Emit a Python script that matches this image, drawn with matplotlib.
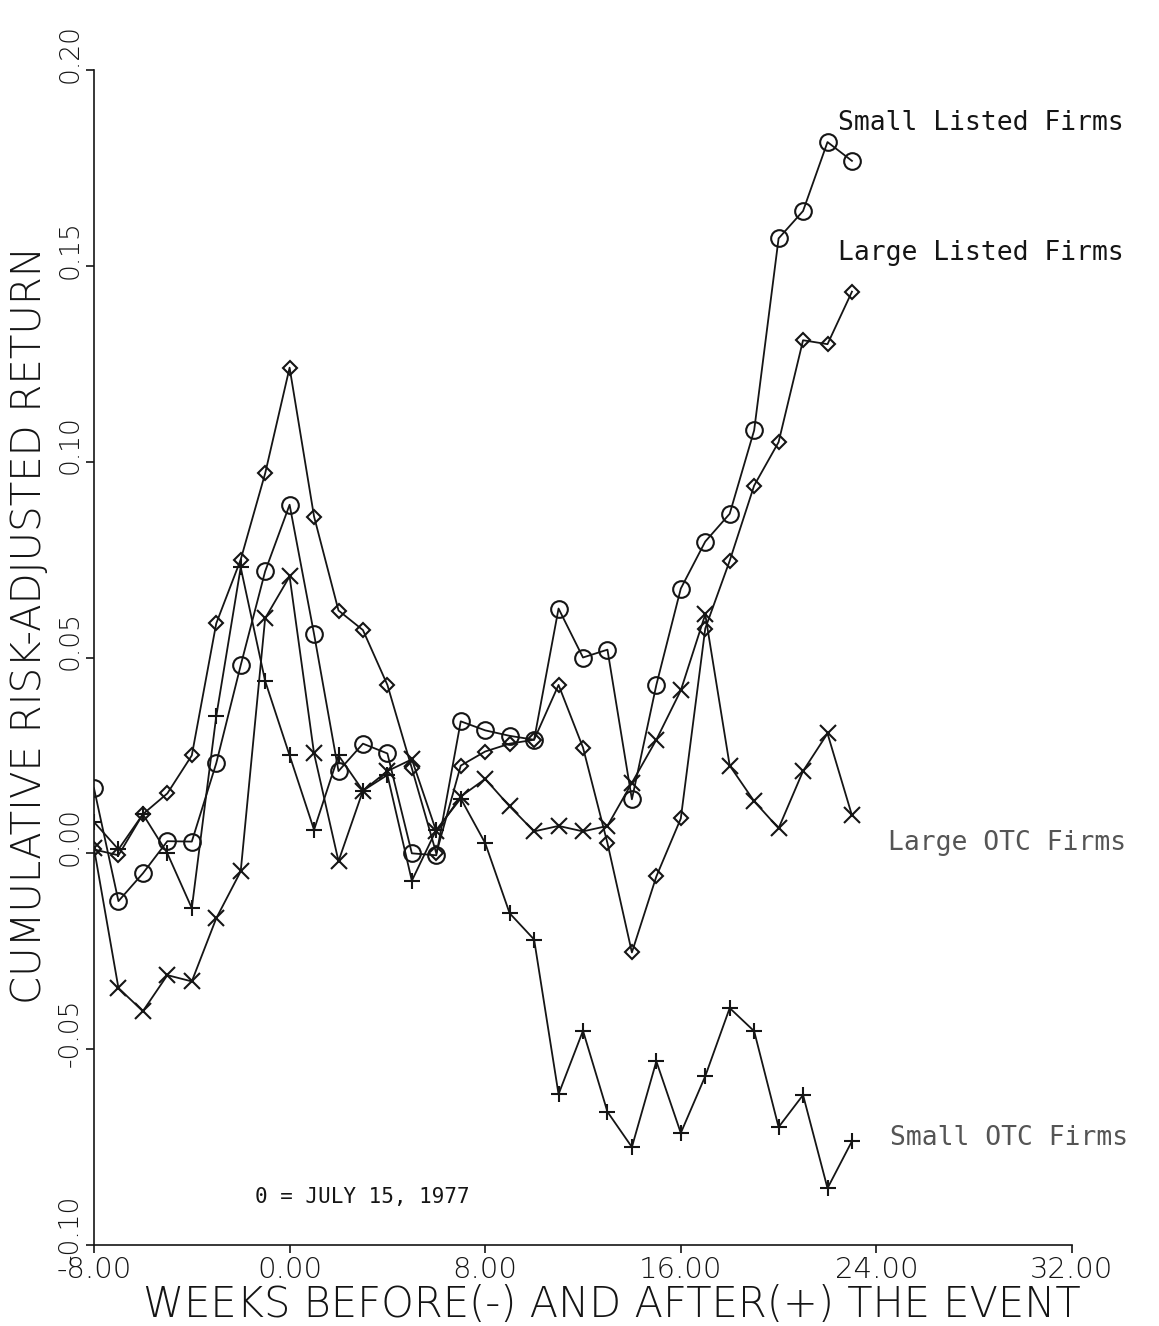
import matplotlib
matplotlib.use("Agg")
import matplotlib.pyplot as plt
import matplotlib.transforms as mtransforms
import numpy as np

weeks = list(range(-8, 24))

small_listed = [0.0166, -0.0122, -0.0051, 0.0031, 0.0030, 0.0230, 0.0480, 0.0720,
                0.0890, 0.0560, 0.0210, 0.0280, 0.0255, 0.0000, -0.0005, 0.0337,
                0.0314, 0.0300, 0.0290, 0.0625, 0.0500, 0.0520, 0.0138, 0.0430,
                0.0676, 0.0796, 0.0867, 0.1080, 0.1570, 0.1640, 0.1816, 0.1768]

large_listed = [0.0010, -0.0005, 0.0100, 0.0153, 0.0250, 0.0587, 0.0750, 0.0970,
                0.1240, 0.0860, 0.0620, 0.0570, 0.0430, 0.0217, 0.0000, 0.0224,
                0.0260, 0.0280, 0.0290, 0.0430, 0.0270, 0.0026, -0.0253, -0.0059,
                0.0089, 0.0574, 0.0747, 0.0939, 0.1050, 0.1310, 0.1300, 0.1434]

large_otc = [0.0013, -0.0344, -0.0403, -0.0311, -0.0327, -0.0166, -0.0046, 0.0600,
             0.0707, 0.0255, -0.0020, 0.0160, 0.0210, 0.0240, 0.0056, 0.0145,
             0.0190, 0.0120, 0.0056, 0.0070, 0.0056, 0.0070, 0.0180, 0.0290,
             0.0416, 0.0610, 0.0224, 0.0133, 0.0064, 0.0210, 0.0306, 0.0097]

small_otc = [0.0080, 0.0010, 0.0100, 0.0000, -0.0140, 0.0350, 0.0730, 0.0440,
             0.0250, 0.0060, 0.0250, 0.0160, 0.0200, -0.0070, 0.0060, 0.0140,
             0.0026, -0.0153, -0.0220, -0.0615, -0.0453, -0.0660, -0.0750, -0.0531,
             -0.0714, -0.0569, -0.0395, -0.0454, -0.0699, -0.0617, -0.0855, -0.0735]

series_names = ["Small Listed Firms", "Large Listed Firms", "Large OTC Firms", "Small OTC Firms"]
x_ticks = [-8, 0, 8, 16, 24, 32]
x_ticklabels = ["-8.00", "0.00", "8.00", "16.00", "24.00", "32.00"]
y_ticks = [-0.10, -0.05, 0.00, 0.05, 0.10, 0.15, 0.20]
y_ticklabels = ["-0.10", "-0.05", "0.00", "0.05", "0.10", "0.15", "0.20"]

W, H = 1159, 1326
fig = plt.figure(figsize=(W / 100, H / 100), dpi=100)
fig.patch.set_facecolor("white")
ax = fig.add_axes([94 / W, 1 - 1245 / H, 978 / W, (1245 - 70) / H])

ink = "#151515"
common = dict(color=ink, lw=1.3, mew=1.5)
ax.plot(weeks, small_listed, marker="o", ms=12, mfc="none", **common)
ax.plot(weeks, large_listed, marker="D", ms=7.5, mfc="none", **common)
ax.plot(weeks, large_otc, marker="x", ms=12, **common)
ax.plot(weeks, small_otc, marker="+", ms=12, **common)

ax.set_xlim(-8, 32)
ax.set_ylim(-0.10, 0.20)
for s in ["top", "right"]:
    ax.spines[s].set_visible(False)
for s in ["left", "bottom"]:
    ax.spines[s].set_linewidth(1.2)
    ax.spines[s].set_color(ink)

ax.set_xticks(x_ticks)
ax.set_xticklabels(x_ticklabels, fontsize=21, color=ink, fontweight="light")
ax.set_yticks(y_ticks)
ax.set_yticklabels(y_ticklabels, fontsize=19, color=ink, rotation=90,
                   va="center", fontweight="light")
ax.tick_params(axis="both", direction="out", length=6, width=1.2, color=ink)
ax.tick_params(axis="x", pad=2)
ax.tick_params(axis="y", pad=2)
off = mtransforms.ScaledTranslation(0, 12 / 72, fig.dpi_scale_trans)
for lab in ax.get_yticklabels():
    lab.set_transform(lab.get_transform() + off)

fig.text(30 / W, 1 - 625 / H, "CUMULATIVE RISK-ADJUSTED RETURN", rotation=90,
         ha="center", va="center", fontsize=29, color=ink, fontweight="light")
fig.text(612 / W, 1 - 1305 / H, "WEEKS BEFORE(-) AND AFTER(+) THE EVENT",
         ha="center", va="center", fontsize=30, color=ink, fontweight="light")

mono = "DejaVu Sans Mono"
fig.text(838 / W, 1 - 123 / H, series_names[0], ha="left", va="center",
         fontsize=19, family=mono, color=ink)
fig.text(838 / W, 1 - 253 / H, series_names[1], ha="left", va="center",
         fontsize=19, family=mono, color=ink)
fig.text(888 / W, 1 - 843 / H, series_names[2], ha="left", va="center",
         fontsize=19, family=mono, color="#555555")
fig.text(890 / W, 1 - 1138 / H, series_names[3], ha="left", va="center",
         fontsize=19, family=mono, color="#555555")
fig.text(255 / W, 1 - 1197 / H, "0 = JULY 15, 1977", ha="left", va="center",
         fontsize=15, family=mono, color=ink)

fig.savefig("out.png", dpi=100, facecolor="white")
